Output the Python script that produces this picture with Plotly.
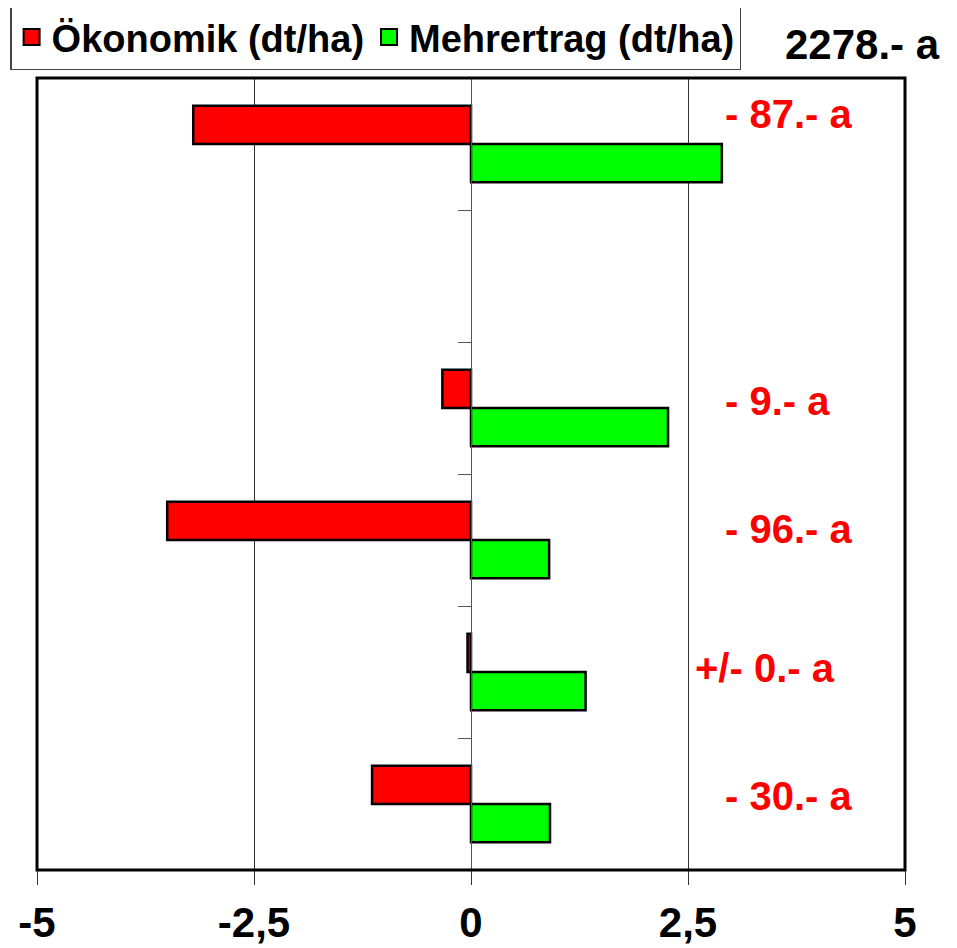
import plotly.graph_objects as go

# ---- data ----
slots = [0, 1, 2, 3, 4, 5]  # category slots, top to bottom (slot 1 empty)
oekonomik = [-3.20, None, -0.33, -3.50, -0.04, -1.14]
mehrertrag = [2.89, None, 2.27, 0.90, 1.32, 0.91]
series_names = ["Ökonomik (dt/ha)", "Mehrertrag (dt/ha)"]
x_tickvals = [-5, -2.5, 0, 2.5, 5]
x_ticktext = ["-5", "-2,5", "0", "2,5", "5"]
label_texts = ["- 87.- a", "- 9.- a", "- 96.- a", "+/- 0.- a", "- 30.- a"]
label_slots = [0, 2, 3, 4, 5]
total_label = "2278.- a"

# label placement (styling)
label_x = [2.9, 2.9, 2.9, 2.56, 2.9]
label_dy = [-0.23, -0.05, -0.08, -0.03, -0.06]

FONT = "Liberation Sans, Arial, sans-serif"
RED = "#ff0000"
GREEN = "#00ff00"

fig = go.Figure()
fig.add_trace(go.Bar(y=slots, x=oekonomik, orientation="h", name=series_names[0],
                     marker=dict(color=RED, line=dict(color="black", width=2.5)),
                     showlegend=False))
fig.add_trace(go.Bar(y=slots, x=mehrertrag, orientation="h", name=series_names[1],
                     marker=dict(color=GREEN, line=dict(color="black", width=2.5)),
                     showlegend=False))
# legend entries
for nm, col in zip(series_names, [RED, GREEN]):
    fig.add_trace(go.Scatter(x=[None], y=[None], mode="markers", name=nm,
                             marker=dict(symbol="square", size=16, color=col,
                                         line=dict(color="black", width=2))))

for t, s, lx, dy in zip(label_texts, label_slots, label_x, label_dy):
    fig.add_annotation(x=lx, y=s + dy, xref="x", yref="y", text=t, showarrow=False,
                       xanchor="left", yanchor="middle",
                       font=dict(family=FONT, size=40, color=RED, weight="bold"))

fig.add_annotation(x=1.043, y=1.042, xref="paper", yref="paper", text=total_label,
                   showarrow=False, xanchor="right", yanchor="middle",
                   font=dict(family=FONT, size=42, color="black", weight="bold"))

fig.add_shape(type="rect", xref="paper", yref="paper", x0=0, y0=0, x1=1, y1=1,
              line=dict(color="black", width=3), layer="above")

fig.update_layout(
    width=949, height=940,
    margin=dict(l=29, r=52, t=70, b=78, autoexpand=False),
    paper_bgcolor="white", plot_bgcolor="white",
    barmode="group", bargap=0.42, bargroupgap=0,
    font=dict(family=FONT, color="black"),
    legend=dict(orientation="h", x=-0.031, y=1.093, xanchor="left", yanchor="top",
                bordercolor="#444", borderwidth=1.5, bgcolor="white",
                font=dict(family=FONT, size=38, color="black", weight="bold"),
                itemwidth=30, tracegroupgap=0),
    xaxis=dict(range=[-5, 5], tickvals=x_tickvals, ticktext=x_ticktext,
               showgrid=True, gridcolor="#333", gridwidth=1, zeroline=False,
               ticks="outside", ticklen=14, tickcolor="#333", tickwidth=1,
               showline=False, automargin=False, ticklabelstandoff=2,
               tickfont=dict(family=FONT, size=42, color="black", weight="bold")),
    yaxis=dict(range=[5.5, -0.5], anchor="free", position=0.5,
               tickvals=[0.5, 1.5, 2.5, 3.5, 4.5], showticklabels=False,
               ticks="outside", ticklen=13, tickcolor="#555", tickwidth=1,
               showline=True, linecolor="#555", linewidth=1, automargin=False,
               showgrid=False, zeroline=False),
)

fig.write_html("out.html")
